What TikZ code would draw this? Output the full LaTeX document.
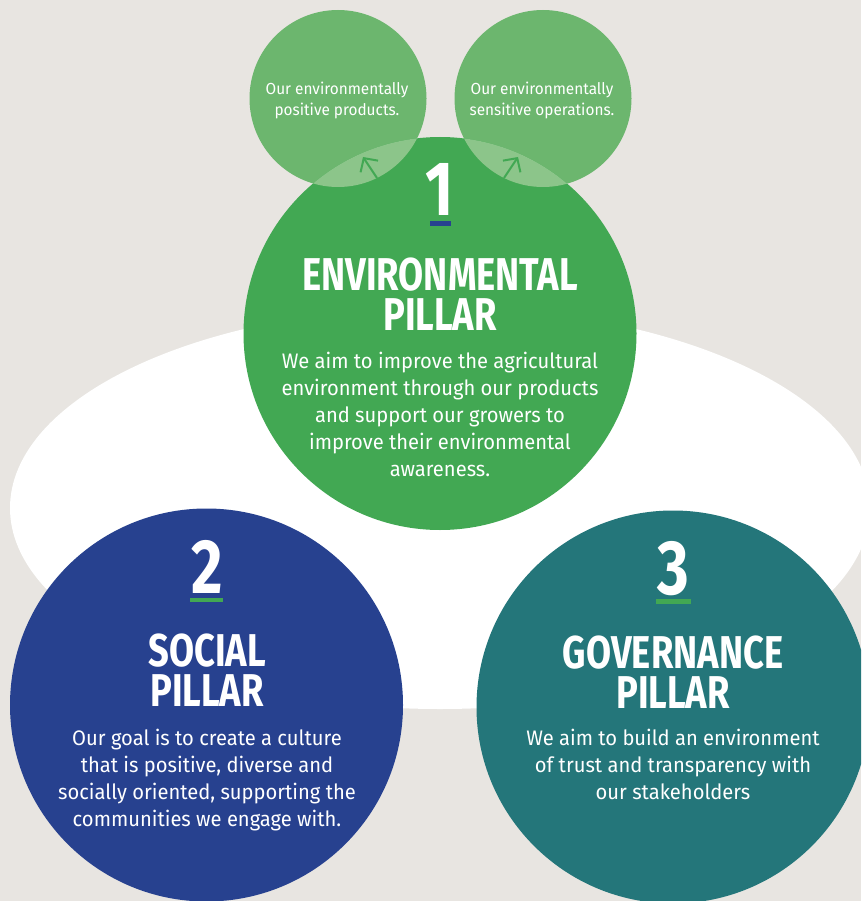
\documentclass[tikz,border=0pt]{standalone}
\usepackage{fontspec}
\setmainfont{Fira Sans}
\newfontfamily\titlefont[FakeStretch=0.79]{Fira Sans}
\newfontfamily\bodyfont[FakeStretch=0.96]{Fira Sans}
\usetikzlibrary{arrows.meta}
\definecolor{bgc}{HTML}{E8E5E1}
\definecolor{envgreen}{HTML}{42A853}
\definecolor{socblue}{HTML}{27418F}
\definecolor{govteal}{HTML}{24767A}
\definecolor{smallgreen}{HTML}{6CB66E}
\definecolor{lensgreen}{HTML}{8CC58A}
\tikzset{
  pillar/.style={circle, minimum size=393pt, inner sep=0pt},
  smallc/.style={circle, minimum size=177pt, inner sep=0pt, fill=smallgreen},
  numtxt/.style={inner sep=0pt, text=white, font=\titlefont\bfseries\fontsize{77}{77}\selectfont},
  titletxt/.style={inner sep=0pt, text=white, align=center, font=\titlefont\bfseries\fontsize{46}{40}\selectfont},
  bodytxt/.style={inner sep=0pt, text=white, align=center, anchor=north, font=\bodyfont\fontsize{21}{27}\selectfont},
  smalltxt/.style={inner sep=0pt, text=white, align=center, anchor=north, font=\bodyfont\fontsize{16}{21}\selectfont},
  uptick/.style={draw=envgreen, line width=2pt, -{Straight Barb[length=10pt, width=21pt, line width=2pt]}}
}
\begin{document}
\begin{tikzpicture}[x=1pt,y=-1pt]
\useasboundingbox (0,0) rectangle (861,901);
\fill[bgc] (0,0) rectangle (861,901);
\clip (0,0) rectangle (861,901);
% white ellipse
\fill[white] (440,508) ellipse [x radius=430, y radius=201];
% small circles
\node[smallc] (prod) at (338,98.5) {};
\node[smallc] (oper) at (543,98.5) {};
% environmental pillar
\node[pillar, fill=envgreen] (env) at (440,333.5) {};
\begin{scope}
  \clip (440,333.5) circle (196.5);
  \fill[lensgreen] (338,98.5) circle (88.5);
  \fill[lensgreen] (543,98.5) circle (88.5);
\end{scope}
\coordinate (a1s) at (377,178);
\coordinate (a1e) at (363,157);
\coordinate (a2s) at (504,178);
\coordinate (a2e) at (518,157);
\draw[uptick] (a1s) -- (a1e);
\draw[uptick] (a2s) -- (a2e);
\node[smalltxt] (prodtxt) at (337,81.5) {Our environmentally\\positive products.};
\node[smalltxt] (opertxt) at (542,81.5) {Our environmentally\\sensitive operations.};
% social and governance pillars
\node[pillar, fill=socblue] (soc) at (206.5,705) {};
\node[pillar, fill=govteal] (gov) at (673,707) {};
% numbers
\node[numtxt] (n1) at (440,189.5) {1};
\fill[socblue] (430,221) rectangle (451,226);
\node[numtxt] (n2) at (207,567) {2};
\fill[envgreen] (190,598) rectangle (223,602);
\node[numtxt] (n3) at (673.5,569) {3};
\fill[envgreen] (656,599) rectangle (691,604);
% titles
\node[titletxt] (t1) at (440,294) {ENVIRONMENTAL\\PILLAR};
\node[titletxt] (t2) at (207,670) {SOCIAL\\PILLAR};
\node[titletxt] (t3) at (673,672.5) {GOVERNANCE\\PILLAR};
% bodies
\node[bodytxt] (b1) at (440,351.5) {We aim to improve the agricultural\\environment through our products\\and support our growers to\\improve their environmental\\awareness.};
\node[bodytxt] (b2) at (207,728.5) {Our goal is to create a culture\\that is positive, diverse and\\socially oriented, supporting the\\communities we engage with.};
\node[bodytxt] (b3) at (673,728.5) {We aim to build an environment\\of trust and transparency with\\our stakeholders};
\end{tikzpicture}
\end{document}
